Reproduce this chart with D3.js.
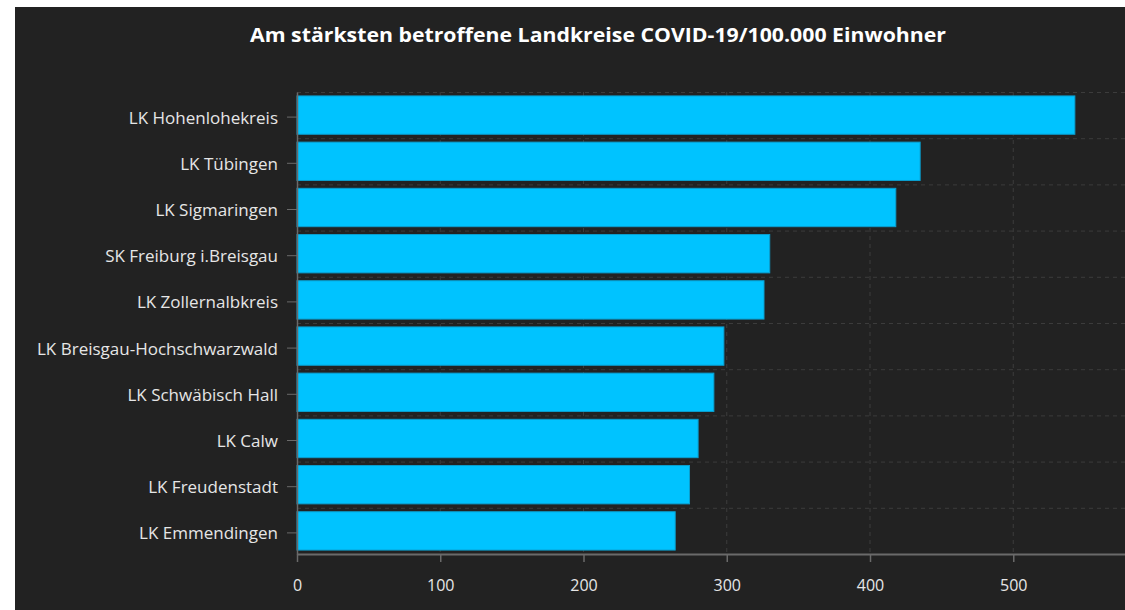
<!DOCTYPE html>
<html>
<head>
<meta charset="utf-8">
<script src="https://cdn.jsdelivr.net/npm/d3@7"></script>
<style>
  html, body { margin: 0; padding: 0; background: #ffffff; }
  svg { display: block; }
</style>
</head>
<body>
<script>
// Landkreise with the highest COVID-19 case rate per 100,000 inhabitants
const districts = [
  "LK Hohenlohekreis",
  "LK Tübingen",
  "LK Sigmaringen",
  "SK Freiburg i.Breisgau",
  "LK Zollernalbkreis",
  "LK Breisgau-Hochschwarzwald",
  "LK Schwäbisch Hall",
  "LK Calw",
  "LK Freudenstadt",
  "LK Emmendingen"
];
const casesPer100k = [543, 435, 418, 330, 326, 298, 291, 280, 274, 264];
const xTicks = [0, 100, 200, 300, 400, 500];
const chartTitle = "Am stärksten betroffene Landkreise COVID-19/100.000 Einwohner";

const W = 1125, H = 610;
const panel = { x: 15, y: 7 };
const plot = { left: 297, right: 1125, top: 92, bottom: 554 };

const svg = d3.select("body").append("svg")
  .attr("width", W).attr("height", H);

// dark panel
svg.append("rect")
  .attr("x", panel.x).attr("y", panel.y)
  .attr("width", W - panel.x).attr("height", H - panel.y)
  .attr("fill", "#222222");

const x = d3.scaleLinear()
  .domain([0, 578])
  .range([plot.left, plot.right]);

const y = d3.scaleBand()
  .domain(districts)
  .range([plot.top, plot.bottom])
  .paddingInner(0.17)
  .paddingOuter(0.085);

const grid = svg.append("g").attr("class", "grid");

// vertical dashed grid lines at each x tick
grid.selectAll("line.v")
  .data(xTicks.filter(d => d > 0))
  .join("line")
  .attr("class", "v")
  .attr("x1", d => x(d)).attr("x2", d => x(d))
  .attr("y1", plot.top).attr("y2", plot.bottom)
  .attr("stroke", "#3c3c3c")
  .attr("stroke-width", 1)
  .attr("stroke-dasharray", "4,4");

// horizontal dashed grid lines between the bands
const boundaries = d3.range(districts.length).map(i => plot.top + i * (plot.bottom - plot.top) / districts.length);
grid.selectAll("line.h")
  .data(boundaries)
  .join("line")
  .attr("class", "h")
  .attr("x1", plot.left).attr("x2", plot.right)
  .attr("y1", d => d + 0.5).attr("y2", d => d + 0.5)
  .attr("stroke", "#3c3c3c")
  .attr("stroke-width", 1)
  .attr("stroke-dasharray", "4,4");

// bars
svg.append("g")
  .selectAll("rect")
  .data(districts.map((d, i) => ({ name: d, value: casesPer100k[i] })))
  .join("rect")
  .attr("x", x(0))
  .attr("y", d => y(d.name))
  .attr("width", d => x(d.value) - x(0))
  .attr("height", y.bandwidth())
  .attr("fill", "#00c3ff")
  .attr("stroke", "#0a9fcf")
  .attr("stroke-width", 1);

// y axis
const yAxis = svg.append("g")
  .attr("transform", `translate(${plot.left},0)`)
  .call(d3.axisLeft(y).tickSize(10).tickPadding(9).tickSizeOuter(0));
yAxis.select(".domain").attr("stroke", "#6a6a6a").attr("stroke-width", 1.5);
yAxis.selectAll(".tick line").attr("stroke", "#6a6a6a").attr("transform", "translate(0,2)");
yAxis.selectAll(".tick text")
  .attr("fill", "#e6e6e6")
  .attr("dy", "0.5em")
  .style("font-family", "'Open Sans', sans-serif")
  .style("font-size", "17px");

// x axis
const xAxis = svg.append("g")
  .attr("transform", `translate(0,${plot.bottom})`)
  .call(d3.axisBottom(x).tickValues(xTicks).tickSize(8).tickPadding(18).tickSizeOuter(0));
xAxis.select(".domain").attr("stroke", "#6a6a6a").attr("stroke-width", 2);
xAxis.selectAll(".tick line").attr("stroke", "#6a6a6a").attr("stroke-width", 1.5);
xAxis.selectAll(".tick text")
  .attr("fill", "#e6e6e6")
  .style("font-family", "'Open Sans', sans-serif")
  .style("font-size", "16px");

// title
svg.append("text")
  .attr("x", 598).attr("y", 42)
  .attr("text-anchor", "middle")
  .attr("fill", "#ffffff")
  .attr("textLength", 696)
  .attr("lengthAdjust", "spacingAndGlyphs")
  .style("font-family", "'Open Sans', sans-serif")
  .style("font-weight", "bold")
  .style("font-size", "20px")
  .text(chartTitle);
</script>
</body>
</html>
